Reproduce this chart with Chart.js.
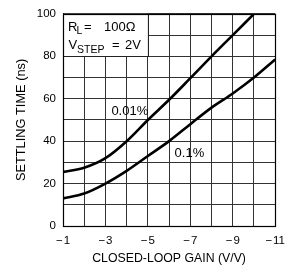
<!DOCTYPE html>
<html><head><meta charset="utf-8">
<script src="https://cdn.jsdelivr.net/npm/chart.js@4/dist/chart.umd.min.js"></script>
<style>html,body{margin:0;padding:0;background:#fff}#wrap{width:293px;height:278px}</style>
</head><body><div id="wrap"><canvas id="c" width="293" height="278"></canvas></div>
<script>
// Data
const gain001 = [-1, -2, -3, -4, -5, -6, -7, -8, -9, -10];
const settling001 = [25.5, 27.5, 32, 40, 50, 59.5, 69.7, 80, 90, 100];
const gain01 = [-1, -2, -3, -4, -5, -6, -7, -8, -9, -10, -11];
const settling01 = [13, 15.3, 20, 26, 33, 40, 48, 55.8, 62.5, 70, 78.5];
const xTickValues = [-1, -3, -5, -7, -9, -11];
const xTickLabels = ['\u2212\u200A1', '\u2212\u200A3', '\u2212\u200A5', '\u2212\u200A7', '\u2212\u200A9', '\u2212\u200A11'];
const yTickValues = [0, 20, 40, 60, 80, 100];
const yTickLabels = ['0', '20', '40', '60', '80', '100'];
const seriesLabels = ['0.01%', '0.1%'];
const labelAnchors = [[-3.28, 54.2], [-6.26, 34.3]];
const boxCorners = [[-1, 100], [-5, 80]];

const FONT = 'Liberation Sans, Arial, sans-serif';

const overlay = {
  id: 'overlay',
  beforeDatasetsDraw(chart) {
    const {ctx, scales: {x, y}} = chart;
    const x1 = x.getPixelForValue(boxCorners[0][0]);
    const x2 = x.getPixelForValue(boxCorners[1][0]);
    const y1 = y.getPixelForValue(boxCorners[0][1]);
    const y2 = y.getPixelForValue(boxCorners[1][1]);
    ctx.save();
    ctx.fillStyle = '#fff';
    ctx.fillRect(x1, y1, x2 - x1, y2 - y1);
    ctx.strokeStyle = '#222';
    ctx.lineWidth = 1;
    ctx.strokeRect(Math.round(x1) + 0.5, Math.round(y1) + 0.5, Math.round(x2 - x1), Math.round(y2 - y1));
    ctx.fillStyle = '#000';
    ctx.textBaseline = 'alphabetic';
    ctx.textAlign = 'left';
    const big = '13px ' + FONT, small = '10.5px ' + FONT;
    const b1 = y1 + 17.5, b2 = y1 + 35.5;
    ctx.font = big; ctx.fillText('R', x1 + 5, b1);
    ctx.font = small; ctx.fillText('L', x1 + 13.5, b1 + 2.5);
    ctx.font = big; ctx.fillText('=', x1 + 21, b1);
    ctx.fillText('100\u03A9', x1 + 41, b1);
    ctx.fillText('V', x1 + 5.5, b2);
    ctx.font = small; ctx.fillText('STEP', x1 + 14, b2 + 3.5);
    ctx.font = big; ctx.fillText('=', x1 + 49, b2);
    ctx.fillText('2V', x1 + 62, b2);
    ctx.restore();
  },
  afterDatasetsDraw(chart) {
    const {ctx, chartArea: a, scales: {x, y}} = chart;
    ctx.save();
    ctx.strokeStyle = '#000';
    ctx.lineWidth = 1.2;
    ctx.strokeRect(Math.round(a.left) + 0.5, Math.round(a.top) + 0.5, Math.round(a.right - a.left), Math.round(a.bottom - a.top));
    ctx.fillStyle = '#000';
    ctx.font = '13px ' + FONT;
    ctx.textBaseline = 'middle';
    ctx.textAlign = 'left';
    seriesLabels.forEach((t, i) => {
      ctx.fillText(t, x.getPixelForValue(labelAnchors[i][0]), y.getPixelForValue(labelAnchors[i][1]));
    });
    ctx.restore();
  }
};

new Chart(document.getElementById('c'), {
  type: 'line',
  data: {
    datasets: [
      {label: seriesLabels[0], data: gain001.map((g, i) => ({x: g, y: settling001[i]})),
       borderColor: '#000', borderWidth: 2.6, pointRadius: 0, cubicInterpolationMode: 'monotone', fill: false},
      {label: seriesLabels[1], data: gain01.map((g, i) => ({x: g, y: settling01[i]})),
       borderColor: '#000', borderWidth: 2.6, pointRadius: 0, cubicInterpolationMode: 'monotone', fill: false}
    ]
  },
  options: {
    responsive: false,
    devicePixelRatio: 1,
    animation: false,
    layout: {padding: {top: 10, right: 15, left: 0, bottom: 0}},
    plugins: {legend: {display: false}, tooltip: {enabled: false}},
    scales: {
      x: {
        type: 'linear', min: -11, max: -1, reverse: true,
        ticks: {stepSize: 1, autoSkip: false, maxRotation: 0, padding: 8, color: '#000',
          font: {family: FONT, size: 11.5},
          callback: v => { const i = xTickValues.indexOf(v); return i >= 0 ? xTickLabels[i] : ''; }},
        grid: {color: '#333', lineWidth: 1, drawTicks: false},
        border: {display: true, color: '#000', width: 1},
        title: {display: true, text: 'CLOSED-LOOP GAIN (V/V)', color: '#000',
          font: {family: FONT, size: 12.3}, padding: {top: 4, bottom: 12.5}},
        afterFit: s => { s.height = 52; }
      },
      y: {
        min: 0, max: 100,
        ticks: {stepSize: 10, autoSkip: false, padding: 7, color: '#000',
          font: {family: FONT, size: 11.5},
          callback: v => { const i = yTickValues.indexOf(v); return i >= 0 ? yTickLabels[i] : ''; }},
        grid: {color: '#333', lineWidth: 1, drawTicks: false},
        border: {display: true, color: '#000', width: 1},
        title: {display: true, text: 'SETTLING TIME (ns)', color: '#000',
          font: {family: FONT, size: 12.8}, padding: {top: 14, bottom: 4}},
        afterFit: s => { s.width = 63; }
      }
    }
  },
  plugins: [overlay]
});
</script>
</body></html>
